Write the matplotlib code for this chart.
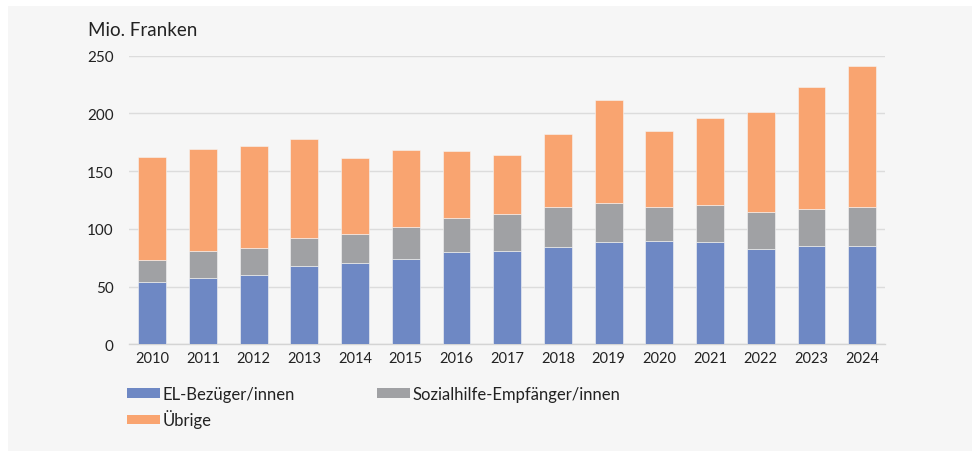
import matplotlib
matplotlib.use("Agg")
import matplotlib.pyplot as plt
from matplotlib.patches import Patch, Rectangle
import numpy as np

plt.rcParams['font.family'] = ['Lato', 'DejaVu Sans']

years = [str(y) for y in range(2010, 2025)]
# Mio. Franken
el = [54.0, 57.4, 60.0, 68.1, 70.4, 73.9, 80.0, 80.5, 84.3, 88.6, 89.8, 88.6, 82.6, 85.2, 85.2]
sozial = [19.0, 23.1, 23.4, 24.0, 25.2, 28.0, 29.7, 32.4, 34.9, 33.8, 29.1, 32.1, 32.0, 32.0, 33.7]
uebrige = [89.2, 89.0, 88.1, 85.7, 65.5, 66.4, 57.7, 50.8, 63.0, 88.9, 65.9, 75.6, 86.9, 105.4, 122.4]

labels = ["EL-Bezüger/innen", "Sozialhilfe-Empfänger/innen", "Übrige"]
colors = ["#6e88c4", "#a0a1a4", "#f9a470"]

fig = plt.figure(figsize=(9.72, 4.52), dpi=100)
fig.patch.set_facecolor("white")
# grey panel behind the chart
fig.patches.append(Rectangle((8 / 972, 0), 1 - 8 / 972, 1 - 7 / 452,
                             transform=fig.transFigure, facecolor="#f6f6f6",
                             edgecolor="none", zorder=-10))

ax = fig.add_axes([129 / 972, 1 - 345.3 / 452, (885 - 129) / 972, (345.3 - 56.7) / 452])
ax.set_facecolor("none")
ax.set_zorder(5)

x = np.arange(len(years))
w = 0.55
bottom = np.zeros(len(years))
for vals, col in zip([el, sozial, uebrige], colors):
    ax.bar(x, vals, w, bottom=bottom, color=col, edgecolor="#f6f6f6", linewidth=0.4, zorder=3)
    bottom += np.array(vals)

ax.set_ylim(0, 250)
ax.set_xlim(-0.46, 14.45)
ax.set_yticks(range(0, 251, 50))
ax.set_xticks(x)
ax.set_xticklabels(years)
ax.grid(axis="y", color="#dcdcdc", linewidth=1, zorder=0)
ax.tick_params(axis="y", length=0, pad=11, labelsize=11, colors="#222222")
ax.tick_params(axis="x", length=0, pad=5, labelsize=10.5, colors="#222222")
for side in ["top", "right", "left"]:
    ax.spines[side].set_visible(False)
ax.spines["bottom"].set_color("#d4d4d4")
ax.spines["bottom"].set_linewidth(1)

fig.text(88 / 972, 1 - 31 / 452, "Mio. Franken", fontsize=13.5, color="#222222", va="center")

# column-wise fill: EL + Übrige in first column, Sozialhilfe in second
order = [0, 2, 1]
handles = [Patch(facecolor=colors[i], edgecolor="none") for i in order]
leg = fig.legend(handles, [labels[i] for i in order], loc="upper left",
                 bbox_to_anchor=(112 / 972, 1 - 372 / 452),
                 ncol=2, frameon=False, fontsize=12, handlelength=2.0, handleheight=0.5,
                 handletextpad=0.15, columnspacing=4.9, labelspacing=0.45)
leg.set_zorder(6)
for t in leg.get_texts():
    t.set_color("#222222")

fig.savefig("out.png", dpi=100, facecolor=fig.get_facecolor())
